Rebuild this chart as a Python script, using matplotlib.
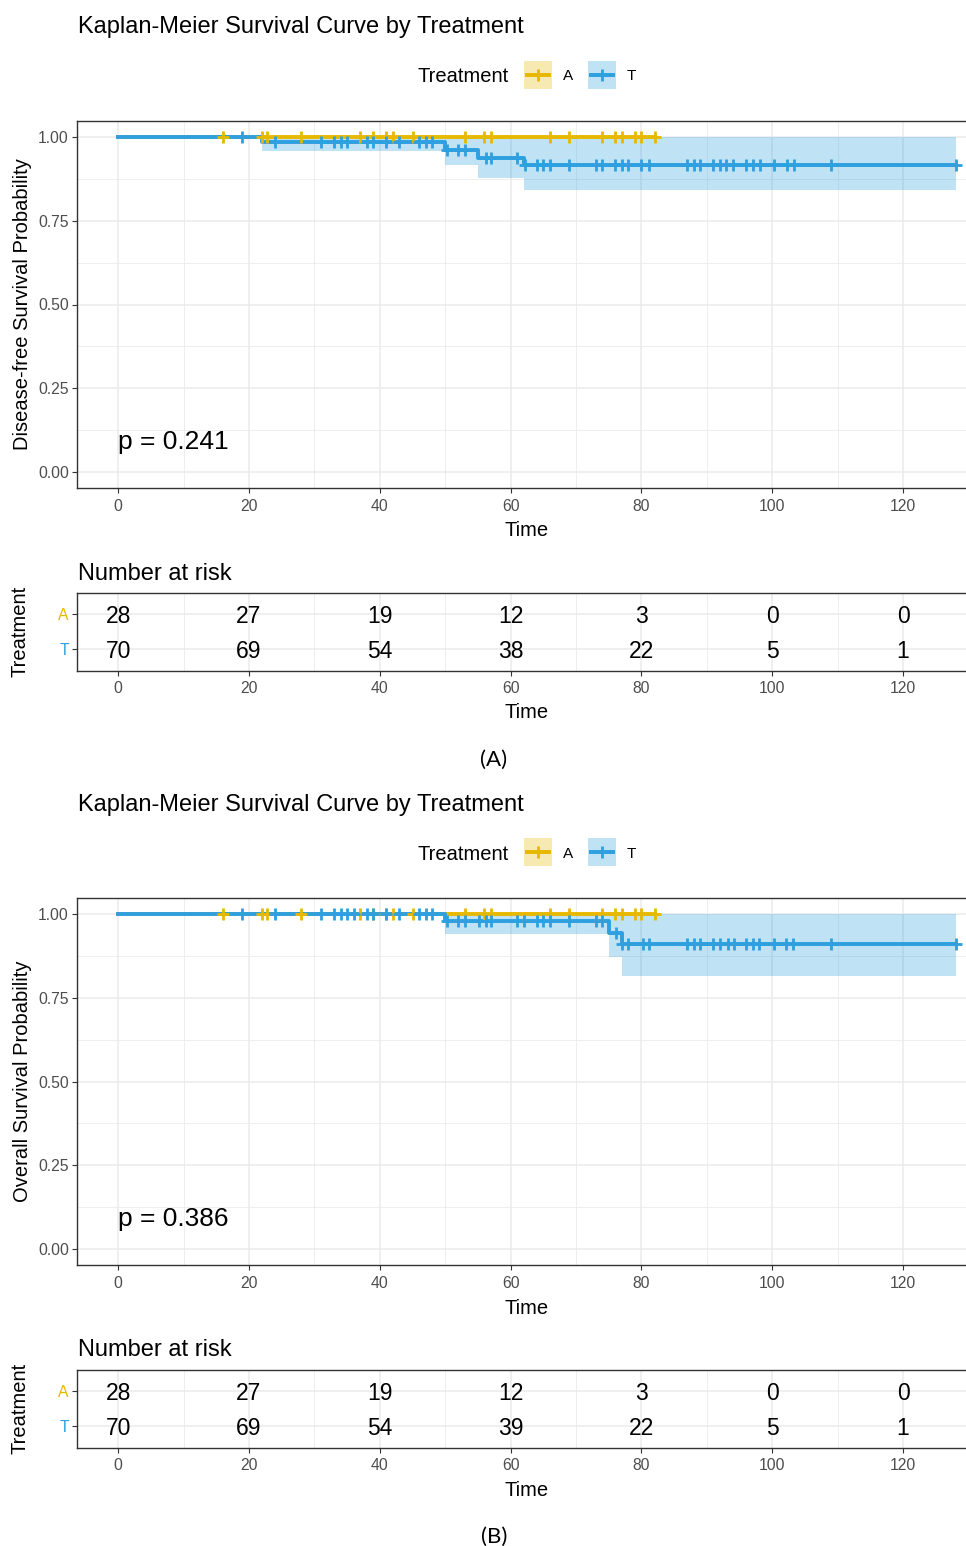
import numpy as np
import matplotlib
matplotlib.use('Agg')
import matplotlib.pyplot as plt
from matplotlib.patches import Rectangle
from matplotlib.ticker import FormatStrFormatter

plt.rcParams['font.family'] = ['Liberation Sans', 'DejaVu Sans']

W, H = 966, 1546
YEL = '#E7B800'
BLU = '#2E9FDF'
GRID = '#EBEBEB'
DARK = '#333333'
TICKC = '#4D4D4D'

# ── 데이터 ─────────────────────────────────────────
RISK_TIMES = [0, 20, 40, 60, 80, 100, 120]

# A 군: 두 지표 모두 사건 없음, 중도절단만
A_TIME = [0, 82.0]
A_SURV = [1.0, 1.0]
A_CENSOR = [16, 22, 22.8, 28, 37, 39, 41, 42, 45, 53, 56, 57, 66, 69,
            74, 76, 77, 79, 80, 82]

# (A) 무병생존 - T 군
DFS_T_TIME = [0, 22, 50, 55, 62, 128.1]
DFS_T_SURV = [1.0, 0.986, 0.961, 0.938, 0.916, 0.916]
DFS_T_LOWER = [1.0, 0.958, 0.918, 0.880, 0.842, 0.842]
DFS_T_UPPER = [1.0, 1.0, 1.0, 1.0, 1.0, 1.0]
DFS_T_CENSOR = [19, 24, 31, 33, 34, 35, 38, 39, 41, 43, 46, 47, 48, 50.3,
                52, 53, 56.2, 57, 61, 62.2, 64, 65, 66, 69, 73, 74, 76, 77,
                78, 80, 81.2, 87, 88, 89, 91, 92, 93, 94, 96, 97, 98.2,
                100.2, 102.2, 103.3, 109, 128.1]
DFS_RISK_A = [28, 27, 19, 12, 3, 0, 0]
DFS_RISK_T = [70, 69, 54, 38, 22, 5, 1]
DFS_P = 'p = 0.241'

# (B) 전체생존 - T 군
OS_T_TIME = [0, 50, 75, 77, 128.1]
OS_T_SURV = [1.0, 0.980, 0.944, 0.910, 0.910]
OS_T_LOWER = [1.0, 0.942, 0.873, 0.815, 0.815]
OS_T_UPPER = [1.0, 1.0, 1.0, 1.0, 1.0]
OS_T_CENSOR = [19, 24, 31, 33, 34, 35, 36, 38, 39, 41, 43, 46, 47, 48, 50.3,
               52, 53, 55.2, 56.2, 57, 61, 62, 64, 65, 66, 69, 73, 74, 76.1,
               77, 78, 80.2, 81.2, 87, 88, 89, 91, 92, 93.2, 94.2, 96, 97, 98,
               100.2, 102.1, 103.1, 109, 128.1]
OS_RISK_A = [28, 27, 19, 12, 3, 0, 0]
OS_RISK_T = [70, 69, 54, 39, 22, 5, 1]
OS_P = 'p = 0.386'

LINE_W = 2.8
MS = 8.6
MEW = 2.0


def add_ax(fig, left, top, right, bottom):
    return fig.add_axes([left / W, 1 - bottom / H, (right - left) / W, (bottom - top) / H])


def style_ax(ax):
    ax.set_facecolor('white')
    ax.set_axisbelow(True)
    for sp in ax.spines.values():
        sp.set_edgecolor(DARK)
        sp.set_linewidth(1.0)
    ax.tick_params(which='major', length=3.6, width=0.8, color=DARK,
                   labelcolor=TICKC, labelsize=11.3, pad=2.5)
    ax.tick_params(axis='x', which='major', pad=4.0)
    ax.tick_params(which='minor', length=0)
    ax.grid(which='major', color=GRID, linewidth=1.1)
    ax.grid(which='minor', color=GRID, linewidth=0.6)


def surv_at(times, surv, pts):
    idx = np.searchsorted(times, pts, side='right') - 1
    return np.asarray(surv)[idx]


def draw_panel(fig, off, ylabel, t_time, t_surv, t_low, t_up, t_cens,
               risk_a, risk_t, ptext, caption):
    # 생존곡선
    ax = add_ax(fig, 77.3, 120.7 + off, 975, 488.3 + off)
    style_ax(ax)
    ax.set_xlim(-6.25, 131)
    ax.set_ylim(-0.05, 1.05)
    ax.set_xticks(RISK_TIMES)
    ax.set_xticks(np.arange(10, 131, 20), minor=True)
    ax.set_yticks([0, 0.25, 0.5, 0.75, 1.0])
    ax.set_yticks([0.125, 0.375, 0.625, 0.875], minor=True)
    ax.yaxis.set_major_formatter(FormatStrFormatter('%.2f'))

    ax.fill_between(A_TIME, A_SURV, A_SURV, step='post', color=YEL, alpha=0.3, lw=0, zorder=1)
    ax.fill_between(t_time, t_low, t_up, step='post', color=BLU, alpha=0.3, lw=0, zorder=1)
    ax.step(A_TIME, A_SURV, where='post', color=YEL, lw=LINE_W, zorder=2)
    ax.step(t_time, t_surv, where='post', color=BLU, lw=LINE_W, zorder=2)
    ax.plot(A_CENSOR, surv_at(A_TIME, A_SURV, A_CENSOR), ls='none', marker='+',
            ms=MS, mew=MEW, color=YEL, zorder=3)
    ax.plot(t_cens, surv_at(t_time, t_surv, t_cens), ls='none', marker='+',
            ms=MS, mew=MEW, color=BLU, zorder=3)

    ax.text(0, 0.095, ptext, fontsize=19, ha='left', va='center_baseline')

    ax.set_xlabel('Time', fontsize=14.5)
    ax.xaxis.label.set_va('center_baseline')
    ax.xaxis.set_label_coords(0.5, -(529 - 488.3) / 367.6)
    ax.set_ylabel(ylabel, fontsize=14.5)
    ax.yaxis.label.set_va('center')
    ax.yaxis.set_label_coords(-(77.3 - 22.5) / 897.7, 0.5)

    # 위험 인원 표
    tb = add_ax(fig, 77.3, 592.7 + off, 975, 670.7 + off)
    style_ax(tb)
    tb.set_xlim(-6.25, 131)
    tb.set_ylim(0.4, 2.6)
    tb.set_xticks(RISK_TIMES)
    tb.set_xticks(np.arange(10, 131, 20), minor=True)
    tb.set_yticks([1, 2])
    tb.set_yticklabels(['T', 'A'])
    tb.get_yticklabels()[0].set_color(BLU)
    tb.get_yticklabels()[1].set_color(YEL)
    for t, na, nt in zip(RISK_TIMES, risk_a, risk_t):
        tb.text(t, 2, str(na), ha='center', va='center_baseline', fontsize=16.5, color='black')
        tb.text(t, 1, str(nt), ha='center', va='center_baseline', fontsize=16.5, color='black')
    tb.set_xlabel('Time', fontsize=14.5)
    tb.xaxis.label.set_va('center_baseline')
    tb.xaxis.set_label_coords(0.5, -(711 - 670.7) / 78.0)
    tb.set_ylabel('Treatment', fontsize=14.5)
    tb.yaxis.label.set_va('center')
    tb.yaxis.set_label_coords(-(77.3 - 20) / 897.7, 0.5)

    # 제목, 범례, 캡션
    fig.text(78 / W, 1 - (25 + off) / H, 'Kaplan-Meier Survival Curve by Treatment',
             fontsize=17, ha='left', va='center_baseline')
    fig.text(78 / W, 1 - (571 + off) / H, 'Number at risk',
             fontsize=17, ha='left', va='center_baseline')
    fig.text(494 / W, 1 - (758 + off) / H, caption, fontsize=16,
             family=['Lato', 'DejaVu Sans'], ha='center', va='center_baseline')

    lax = fig.add_axes([0, 0, 1, 1], zorder=5)
    lax.set_xlim(0, W)
    lax.set_ylim(H, 0)
    lax.axis('off')
    lax.patch.set_alpha(0)
    cy = 75 + off
    lax.text(418, cy, 'Treatment', fontsize=14.5, ha='left', va='center_baseline')
    for x0, col, lab in [(524, YEL, 'A'), (588, BLU, 'T')]:
        lax.add_patch(Rectangle((x0, cy - 14), 28, 28, facecolor=col, alpha=0.3, lw=0))
        lax.plot([x0 + 1, x0 + 27], [cy, cy], color=col, lw=LINE_W, solid_capstyle='butt')
        lax.plot([x0 + 14], [cy], marker='+', ms=MS, mew=MEW, color=col)
        lax.text(x0 + 39, cy, lab, fontsize=11, ha='left', va='center_baseline')


fig = plt.figure(figsize=(W / 100, H / 100), dpi=100, facecolor='white')

draw_panel(fig, 0, 'Disease-free Survival Probability',
           DFS_T_TIME, DFS_T_SURV, DFS_T_LOWER, DFS_T_UPPER, DFS_T_CENSOR,
           DFS_RISK_A, DFS_RISK_T, DFS_P, '(A)')
draw_panel(fig, 777, 'Overall Survival Probability',
           OS_T_TIME, OS_T_SURV, OS_T_LOWER, OS_T_UPPER, OS_T_CENSOR,
           OS_RISK_A, OS_RISK_T, OS_P, '(B)')

fig.savefig('out.png', dpi=100, facecolor='white')
